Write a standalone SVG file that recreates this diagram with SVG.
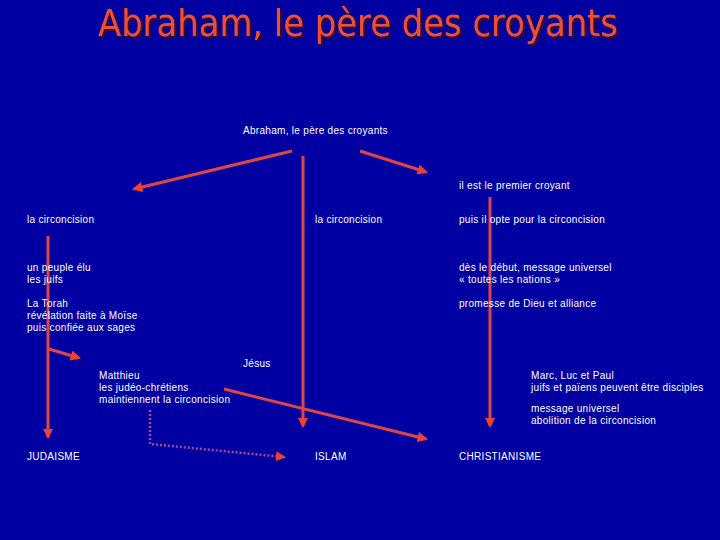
<svg xmlns="http://www.w3.org/2000/svg" width="720" height="540" viewBox="0 0 720 540">
<defs>
<style>
.t{font-family:"Liberation Sans",Arial,sans-serif;font-size:10px;fill:#ffffff;letter-spacing:0.3px}
.ln{stroke:#e04444;stroke-width:3;fill:none}
.dot{stroke:#a84890;stroke-width:2.5;fill:none;stroke-dasharray:2 2}
.title{font-family:"DejaVu Sans","Noto Sans",sans-serif;font-size:38px}
</style>
<filter id="sh" x="-5%" y="-20%" width="110%" height="140%">
<feDropShadow dx="2" dy="2" stdDeviation="0.8" flood-color="#501010" flood-opacity="0.9"/>
</filter>
<marker id="ah" viewBox="0 0 10 10" refX="8" refY="5" markerWidth="3.5" markerHeight="3.5" orient="auto" markerUnits="strokeWidth">
<path d="M0,0 L10,5 L0,10 z" fill="#f04030"/>
</marker>
<marker id="ahd" viewBox="0 0 10 10" refX="8" refY="5" markerWidth="4" markerHeight="4" orient="auto" markerUnits="strokeWidth">
<path d="M0,0 L10,5 L0,10 z" fill="#f04030"/>
</marker>
</defs>
<rect width="720" height="540" fill="#0000a2"/>
<g id="title">
<text class="title" x="358" y="36" text-anchor="middle" textLength="520" lengthAdjust="spacingAndGlyphs" fill="#f05030" filter="url(#sh)">Abraham, le père des croyants</text>
</g>
<g id="connectors">
<line class="ln" x1="292" y1="151" x2="134" y2="189" marker-end="url(#ah)"/>
<line class="ln" x1="360" y1="151" x2="426" y2="172" marker-end="url(#ah)"/>
<line class="ln" x1="303" y1="156" x2="303" y2="426" marker-end="url(#ah)"/>
<line class="ln" x1="490" y1="197" x2="490" y2="426" marker-end="url(#ah)"/>
<line class="ln" x1="48" y1="236" x2="48" y2="437" marker-end="url(#ah)"/>
<line class="ln" x1="49" y1="349" x2="79" y2="358" marker-end="url(#ah)"/>
<line class="ln" x1="224" y1="389" x2="426" y2="439" marker-end="url(#ah)"/>
<polyline class="dot" points="150,410 150,444 284,457" marker-end="url(#ahd)"/>
</g>
<g id="n-abraham"><text class="t" x="243" y="134">Abraham, le père des croyants</text></g>
<g id="n-premier"><text class="t" x="459" y="189">il est le premier croyant</text></g>
<g id="n-circ1"><text class="t" x="27" y="223">la circoncision</text></g>
<g id="n-circ2"><text class="t" x="315" y="223">la circoncision</text></g>
<g id="n-circ3"><text class="t" x="459" y="223">puis il opte pour la circoncision</text></g>
<g id="n-peuple"><text class="t" x="27" y="271">un peuple élu</text><text class="t" x="27" y="283">les juifs</text></g>
<g id="n-torah"><text class="t" x="27" y="307">La Torah</text><text class="t" x="27" y="319">révélation faite à Moïse</text><text class="t" x="27" y="331">puis confiée aux sages</text></g>
<g id="n-debut"><text class="t" x="459" y="271">dès le début, message universel</text><text class="t" x="459" y="283">« toutes les nations »</text></g>
<g id="n-promesse"><text class="t" x="459" y="307">promesse de Dieu et alliance</text></g>
<g id="n-jesus"><text class="t" x="243" y="367">Jésus</text></g>
<g id="n-matthieu"><text class="t" x="99" y="379">Matthieu</text><text class="t" x="99" y="391">les judéo-chrétiens</text><text class="t" x="99" y="403">maintiennent la circoncision</text></g>
<g id="n-marc"><text class="t" x="531" y="379">Marc, Luc et Paul</text><text class="t" x="531" y="391">juifs et païens peuvent être disciples</text></g>
<g id="n-message"><text class="t" x="531" y="412">message universel</text><text class="t" x="531" y="424">abolition de la circoncision</text></g>
<g id="n-judaisme"><text class="t" x="27" y="460">JUDAISME</text></g>
<g id="n-islam"><text class="t" x="315" y="460">ISLAM</text></g>
<g id="n-christianisme"><text class="t" x="459" y="460">CHRISTIANISME</text></g>
</svg>
